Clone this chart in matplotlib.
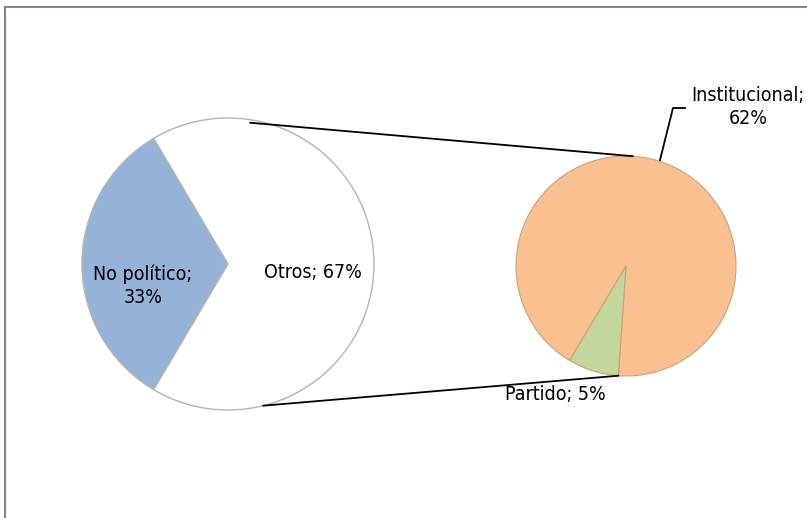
import numpy as np
import matplotlib
matplotlib.use('Agg')
import matplotlib.pyplot as plt
from matplotlib.lines import Line2D

# data
outer_labels = ['No político', 'Otros']
outer_values = [33, 67]
inner_labels = ['Institucional', 'Partido']
inner_values = [62, 5]

W, H = 807, 518
fig = plt.figure(figsize=(W / 100, H / 100), dpi=100)
fig.patch.set_facecolor('white')
ax = fig.add_axes([0, 0, 1, 1])

txt = dict(family=['DejaVu Sans'], fontstretch='condensed')

# left pie (y measured from bottom)
lc, lr = (228, 254), 146
start_l = 180 - outer_values[0] * 3.6 / 2
ax.pie(outer_values, center=lc, radius=lr, startangle=start_l,
       colors=['#95b3d7', '#ffffff'], frame=True,
       wedgeprops=dict(edgecolor='#b4b4b4', linewidth=1.0))

# right pie
rc, rr = (626, 252), 110
start_r = 266
ax.pie(inner_values, center=rc, radius=rr, startangle=start_r,
       colors=['#fac090', '#c3d69b'], frame=True,
       wedgeprops=dict(edgecolor='#c9a27a', linewidth=0.8))

# connector lines
def pt(c, r, ang):
    a = np.deg2rad(ang)
    return c[0] + r * np.cos(a), c[1] + r * np.sin(a)

p1, p2 = pt(lc, lr - 3, 81), pt(rc, rr, 86.5)
ax.plot([p1[0], p2[0]], [p1[1], p2[1]], color='black', lw=1.3)
p1, p2 = pt(lc, lr, -76), pt(rc, rr, start_r)
ax.plot([p1[0], p2[0]], [p1[1], p2[1]], color='black', lw=1.3)

# labels
fs = 14
ax.text(143, H - 286, f"{outer_labels[0]};\n{outer_values[0]}%", ha='center', va='center',
        fontsize=fs, linespacing=1.25, **txt)
ax.text(313, H - 272, f"{outer_labels[1]}; {outer_values[1]}%", ha='center', va='center',
        fontsize=fs, **txt)
ax.text(748, H - 107, f"{inner_labels[0]};\n{inner_values[0]}%", ha='center', va='center',
        fontsize=fs, linespacing=1.25, **txt)
ax.text(555, H - 395, f"{inner_labels[1]}; {inner_values[1]}%", ha='center', va='center',
        fontsize=fs, **txt)

# leader line for Institucional
ax.plot([660, 673, 685], [H - 160, H - 108, H - 108], color='black', lw=1.3)

ax.set_xlim(0, W)
ax.set_ylim(0, H)
ax.set_aspect('equal')
ax.axis('off')

# chart frame (only top and left edges visible)
fig.add_artist(Line2D([5 / W, 1], [1 - 7 / H, 1 - 7 / H], color='#868686', lw=1.5))
fig.add_artist(Line2D([5 / W, 5 / W], [0, 1 - 7 / H], color='#868686', lw=1.5))

plt.savefig('out.png', dpi=100, facecolor='white')
